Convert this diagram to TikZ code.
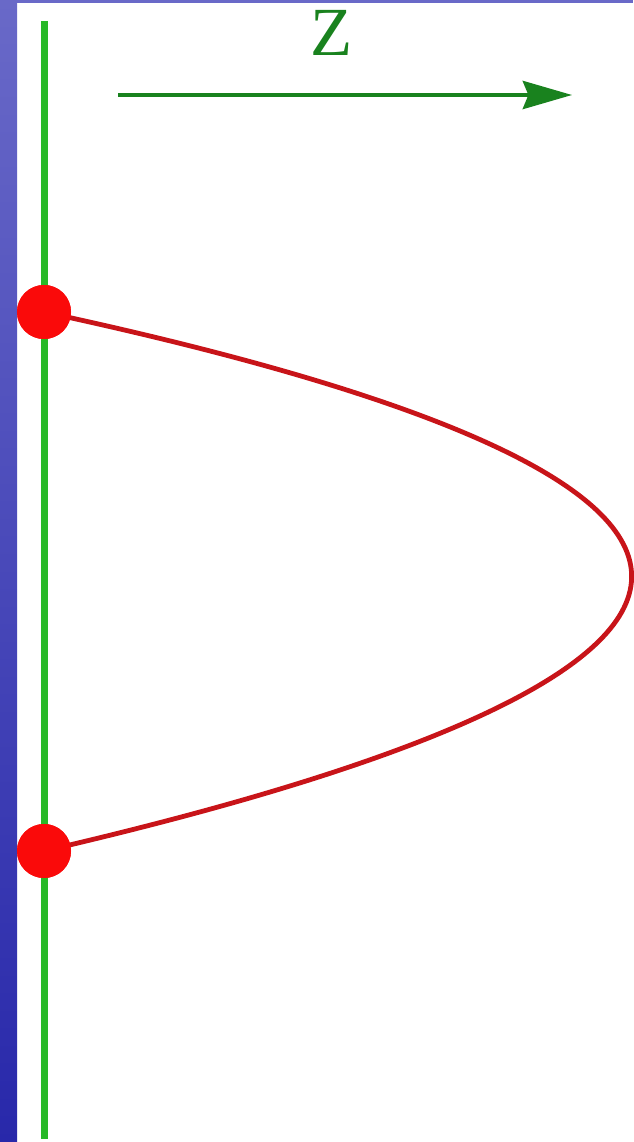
\documentclass[tikz,border=0pt]{standalone}
\usepackage{fontspec}
\setmainfont{Liberation Serif}
\usetikzlibrary{arrows.meta}
\definecolor{verde}{RGB}{40,185,40}
\definecolor{verdeosc}{RGB}{25,130,30}
\definecolor{rojo}{RGB}{250,10,10}
\definecolor{rojoosc}{RGB}{200,20,25}
\definecolor{azulclaro}{RGB}{105,105,200}
\definecolor{azuloscuro}{RGB}{40,40,170}
\tikzset{
  punto/.style={circle, fill=rojo, inner sep=0pt, minimum size=1.35cm},
  eje/.style={verde, line width=5pt},
  curva/.style={rojoosc, line width=3.4pt}
}
\begin{document}
\begin{tikzpicture}[x=0.025cm, y=-0.025cm]
        \useasboundingbox (0,0) rectangle (633,1142);
        \fill[white] (0,0) rectangle (633,1142);
        % Fondo
        \shade[top color=azulclaro, bottom color=azuloscuro] (0,0) rectangle (17,1142);
        \fill[azulclaro] (17,0) rectangle (633,3);
        % Eje
        \coordinate (arriba) at (44.5,21);
        \coordinate (abajo) at (44.5,1139);
        \draw[eje] (arriba) -- (abajo);
        % Flecha Z
        \coordinate (inicio) at (118,95);
        \coordinate (fin) at (572,95);
        \draw[verdeosc, line width=2.8pt, -{Stealth[length=35pt, width=20pt, inset=4pt]}] (inicio) -- (fin);
        \node[verdeosc, inner sep=0pt, font=\fontsize{49}{49}\selectfont] (z) at (332,33) {Z};
        % Cargas
        \node[punto] (p1) at (44,312) {};
        \node[punto] (p2) at (44,851) {};
        \draw[curva] (p1.center) .. controls (835,482) and (820,671) .. (p2.center);
        \node[punto] at (p1) {};
        \node[punto] at (p2) {};
    \end{tikzpicture}
\end{document}
